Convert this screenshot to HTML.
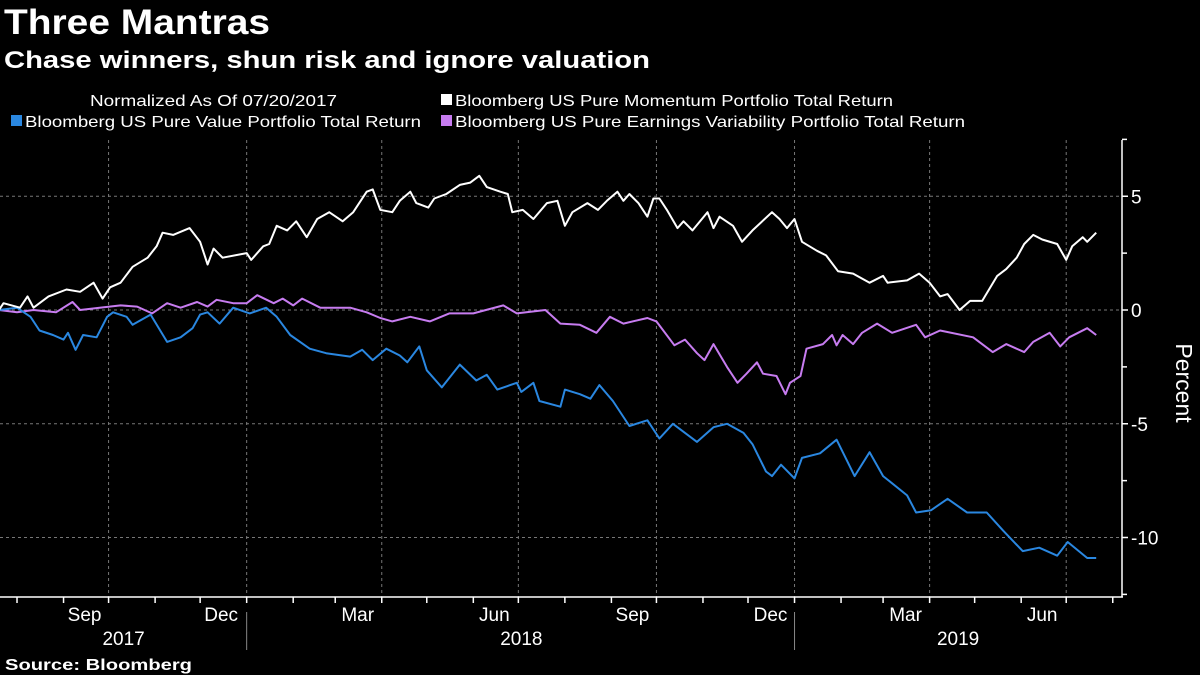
<!DOCTYPE html>
<html><head><meta charset="utf-8"><style>
html,body{margin:0;padding:0;background:#000;}
svg{display:block;font-family:"Liberation Sans","DejaVu Sans",sans-serif;}
</style></head><body>
<svg id="chart" width="1200" height="675" viewBox="0 0 1200 675" xmlns="http://www.w3.org/2000/svg">
<rect width="1200" height="675" fill="#000"/>
<text x="4" y="34" fill="#fff" font-size="35" font-weight="bold" textLength="266" lengthAdjust="spacingAndGlyphs">Three Mantras</text>
<text x="4" y="68" fill="#fff" font-size="24" font-weight="bold" textLength="646" lengthAdjust="spacingAndGlyphs">Chase winners, shun risk and ignore valuation</text>
<g>
<text x="90" y="106" fill="#fff" font-size="16" textLength="247" lengthAdjust="spacingAndGlyphs">Normalized As Of 07/20/2017</text>
<g><rect x="441" y="94" width="11" height="11" fill="#fff"/><text x="455" y="106" fill="#fff" font-size="16" textLength="438" lengthAdjust="spacingAndGlyphs">Bloomberg US Pure Momentum Portfolio Total Return</text></g>
<g><rect x="11" y="115" width="11" height="11" fill="#2a87e0"/><text x="25" y="127" fill="#fff" font-size="16" textLength="396" lengthAdjust="spacingAndGlyphs">Bloomberg US Pure Value Portfolio Total Return</text></g>
<g><rect x="441" y="115" width="11" height="11" fill="#c77cf0"/><text x="455" y="127" fill="#fff" font-size="16" textLength="510" lengthAdjust="spacingAndGlyphs">Bloomberg US Pure Earnings Variability Portfolio Total Return</text></g>
</g>
<g id="grid"></g>
<g id="axes"></g>
<g id="series"></g>
<text x="0" y="0" transform="translate(1176,383) rotate(90)" fill="#fff" font-size="23" text-anchor="middle">Percent</text>
<text x="5" y="670" fill="#fff" font-size="16" font-weight="bold" textLength="187" lengthAdjust="spacingAndGlyphs">Source: Bloomberg</text>
</svg>
<script>
// days since 2017-07-20
const momentumDays = [0,3,14,19,23,33,45,54,63,69,74,81,89,99,105,109,116,127,134,139,143,149,165,168,176,180,185,192,198,205,212,220,229,236,245,249,254,262,267,274,278,286,290,298,307,314,320,325,334,339,342,349,356,365,372,377,382,392,399,405,412,416,420,426,432,436,440,445,452,456,462,472,476,480,489,495,502,515,520,525,530,535,545,551,559,569,580,589,592,605,613,620,627,632,640,647,655,665,671,678,683,689,695,705,711,715,722,725,731];
const momentumValues = [0,0.3,0.1,0.6,0.1,0.6,0.9,0.8,1.2,0.5,1.0,1.2,1.9,2.3,2.8,3.4,3.3,3.6,3.0,2.0,2.7,2.3,2.5,2.2,2.8,2.9,3.7,3.5,3.9,3.2,4.0,4.3,3.9,4.3,5.2,5.3,4.4,4.3,4.8,5.2,4.7,4.5,4.9,5.1,5.5,5.6,5.9,5.4,5.2,5.1,4.3,4.4,4.0,4.7,4.8,3.7,4.3,4.7,4.4,4.8,5.2,4.8,5.1,4.7,4.1,4.9,4.9,4.4,3.6,3.9,3.5,4.3,3.6,4.1,3.7,3.0,3.5,4.3,4.0,3.6,4.0,3.0,2.6,2.4,1.7,1.6,1.2,1.5,1.2,1.3,1.6,1.2,0.6,0.7,0.0,0.4,0.4,1.5,1.8,2.3,2.9,3.3,3.1,2.9,2.2,2.8,3.2,3.0,3.4];
const earningsDays = [0,12,23,38,49,54,67,81,92,102,112,121,132,139,145,156,165,172,183,189,196,202,214,234,245,254,262,274,287,300,316,336,345,364,374,387,398,407,416,432,438,450,457,465,470,476,485,492,498,505,509,518,524,527,534,538,549,555,558,562,569,575,585,595,611,617,627,649,662,671,683,689,700,707,713,725,731];
const earningsValues = [0,-0.1,0,-0.1,0.35,0,0.1,0.2,0.15,-0.15,0.3,0.1,0.35,0.15,0.45,0.3,0.3,0.65,0.3,0.5,0.2,0.5,0.1,0.1,-0.1,-0.35,-0.5,-0.3,-0.5,-0.15,-0.15,0.2,-0.15,0,-0.6,-0.65,-1.0,-0.3,-0.6,-0.35,-0.5,-1.55,-1.3,-1.9,-2.2,-1.5,-2.5,-3.2,-2.8,-2.3,-2.8,-2.9,-3.7,-3.2,-2.9,-1.7,-1.5,-1.1,-1.55,-1.1,-1.5,-1.0,-0.6,-1.0,-0.65,-1.2,-0.9,-1.2,-1.85,-1.5,-1.85,-1.4,-1.0,-1.6,-1.2,-0.8,-1.1];
const valueDays = [0,12,21,27,36,43,46,51,56,65,72,76,85,89,101,112,121,129,134,139,147,156,167,178,185,194,207,218,234,242,249,258,267,272,280,285,295,307,318,325,332,345,348,356,360,374,377,387,394,400,409,420,432,440,449,465,476,485,496,502,505,511,515,521,530,535,547,558,570,580,589,605,611,621,632,645,658,669,682,693,705,712,725,731];
const valueValues = [0,0.1,-0.3,-0.9,-1.1,-1.3,-1.0,-1.75,-1.1,-1.2,-0.3,-0.1,-0.3,-0.65,-0.2,-1.4,-1.2,-0.8,-0.2,-0.1,-0.6,0.1,-0.15,0.1,-0.3,-1.1,-1.7,-1.9,-2.05,-1.75,-2.2,-1.7,-2.0,-2.3,-1.6,-2.65,-3.4,-2.4,-3.1,-2.85,-3.5,-3.2,-3.6,-3.2,-4.0,-4.25,-3.5,-3.7,-3.9,-3.3,-4.0,-5.1,-4.85,-5.65,-5.0,-5.8,-5.15,-5.0,-5.4,-5.9,-6.3,-7.1,-7.3,-6.8,-7.4,-6.5,-6.3,-5.7,-7.3,-6.25,-7.3,-8.15,-8.9,-8.8,-8.3,-8.9,-8.9,-9.7,-10.6,-10.45,-10.8,-10.2,-10.9,-10.9];
const yTicks = [5,0,-5,-10];
const yTickLabels = ["5","0","-5","-10"];
const yMinorTicks = [7.5,2.5,-2.5,-7.5,-12.5];
const monthStartDays = [-19,12,43,73,104,134,165,196,224,255,285,316,346,377,408,438,469,499,530,561,589,620,650,681,711,742];
const quarterGridDays = [73,165,255,346,438,530,620,711];
const monthLabels = ["Sep","Dec","Mar","Jun","Sep","Dec","Mar","Jun"];
const monthLabelDays = [57,148,239,330,422,514,604,695];
const yearLabels = ["2017","2018","2019"];
const yearLabelDays = [83,348,639];
const yearSeparatorDays = [165,530];

const NS = "http://www.w3.org/2000/svg";
function xScale(d){ return -1 + d * 1.501; }
function yScale(v){ return 310 - v * 22.75; }
const grid = document.getElementById('grid');
const axes = document.getElementById('axes');
const series = document.getElementById('series');
function mk(tag, attrs, parent){ const e = document.createElementNS(NS, tag); for (const k in attrs) e.setAttribute(k, attrs[k]); parent.appendChild(e); return e; }

yTicks.forEach((v, i) => {
  const l = mk('line', {x1:0, x2:1122, y1:yScale(v), y2:yScale(v), stroke:'#777', 'stroke-width':1, 'stroke-dasharray':'3,3'}, grid);
  
  
  const t = mk('line', {x1:1122, x2:1128, y1:yScale(v), y2:yScale(v), stroke:'#fff', 'stroke-width':1.5}, axes);
  
  
  const tx = mk('text', {x:1131, y:yScale(v)+7, fill:'#fff', 'font-size':19}, axes);
  tx.textContent = yTickLabels[i];
  
  
});
yMinorTicks.forEach(v => {
  const t = mk('line', {x1:1122, x2:1127, y1:yScale(v), y2:yScale(v), stroke:'#fff', 'stroke-width':1.5}, axes);
  
  
});
quarterGridDays.forEach(d => {
  const l = mk('line', {x1:xScale(d), x2:xScale(d), y1:140, y2:597, stroke:'#777', 'stroke-width':1, 'stroke-dasharray':'3,3'}, grid);
  
  
});
const ax = mk('line', {x1:0, x2:1123, y1:597, y2:597, stroke:'#fff', 'stroke-width':1.5}, axes);


const ay = mk('line', {x1:1122, x2:1122, y1:140, y2:597, stroke:'#fff', 'stroke-width':1.5}, axes);


monthStartDays.forEach(d => {
  const t = mk('line', {x1:xScale(d), x2:xScale(d), y1:597, y2:603, stroke:'#fff', 'stroke-width':1.5}, axes);
  
  
});
monthLabels.forEach((m, i) => {
  const t = mk('text', {x:xScale(monthLabelDays[i]), y:621, fill:'#fff', 'font-size':19, 'text-anchor':'middle'}, axes);
  t.textContent = m;
  
  
});
yearLabels.forEach((y, i) => {
  const t = mk('text', {x:xScale(yearLabelDays[i]), y:645, fill:'#fff', 'font-size':19, 'text-anchor':'middle'}, axes);
  t.textContent = y;
  
  
});
yearSeparatorDays.forEach(d => {
  const l = mk('line', {x1:xScale(d), x2:xScale(d), y1:612, y2:650, stroke:'#888', 'stroke-width':1}, axes);
  
  
});
function drawLine(days, vals, color, name){
  const pts = days.map((d, i) => xScale(d).toFixed(1) + ',' + yScale(vals[i]).toFixed(1)).join(' ');
  const p = mk('polyline', {points:pts, fill:'none', stroke:color, 'stroke-width':2, 'stroke-linejoin':'round'}, series);
  
  
}
drawLine(earningsDays, earningsValues, '#c77cf0', 'earnings-variability-line');
drawLine(valueDays, valueValues, '#2a87e0', 'value-line');
drawLine(momentumDays, momentumValues, '#ffffff', 'momentum-line');
</script>
</body></html>
